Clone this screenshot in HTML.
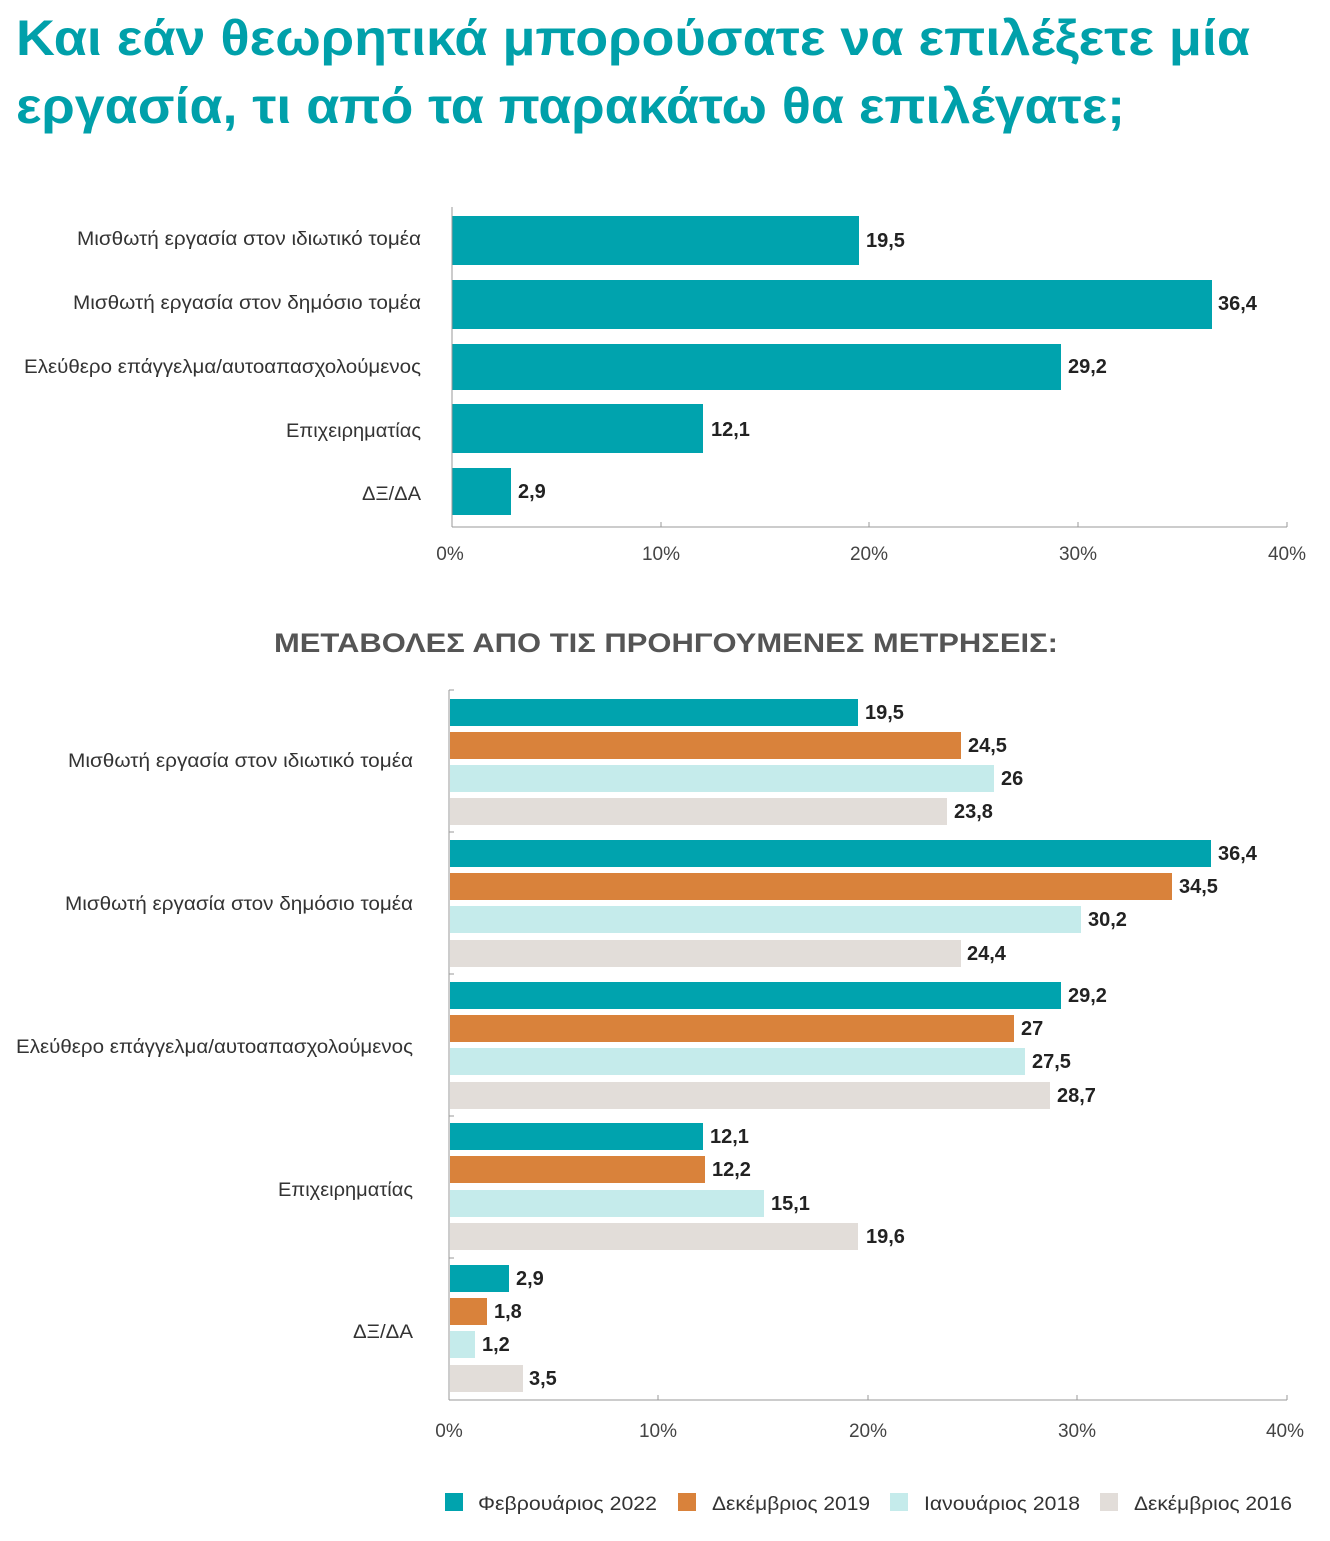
<!DOCTYPE html>
<html><head><meta charset="utf-8"><style>
body{margin:0;background:#fff;width:1330px;height:1536px;overflow:hidden;font-family:"Liberation Sans","DejaVu Sans",sans-serif}
svg text{font-family:"Liberation Sans","DejaVu Sans",sans-serif}
</style></head><body>
<svg width="1330" height="1536" xmlns="http://www.w3.org/2000/svg">
<text x="16" y="55" font-size="50" font-weight="bold" fill="#00A0AA" textLength="1234" lengthAdjust="spacingAndGlyphs">Και εάν θεωρητικά μπορούσατε να επιλέξετε μία</text>
<text x="16" y="123" font-size="50" font-weight="bold" fill="#00A0AA" textLength="1109" lengthAdjust="spacingAndGlyphs">εργασία, τι από τα παρακάτω θα επιλέγατε;</text>

<g fill="#00A3AE">
<rect x="452" y="216" width="407" height="49"/>
<rect x="452" y="280" width="760" height="49"/>
<rect x="452" y="344" width="609" height="46"/>
<rect x="452" y="404" width="251" height="49"/>
<rect x="452" y="468" width="59" height="47"/>
</g>
<g font-size="20" font-weight="bold" fill="#222">
<text x="866" y="247">19,5</text><text x="1218" y="310">36,4</text><text x="1068" y="373">29,2</text><text x="711" y="436">12,1</text><text x="518" y="498">2,9</text>
</g>
<g font-size="19" fill="#333" text-anchor="end" lengthAdjust="spacingAndGlyphs">
<text x="421" y="245" textLength="344" lengthAdjust="spacingAndGlyphs">Μισθωτή εργασία στον ιδιωτικό τομέα</text>
<text x="421" y="309" textLength="348" lengthAdjust="spacingAndGlyphs">Μισθωτή εργασία στον δημόσιο τομέα</text>
<text x="421" y="373" textLength="397" lengthAdjust="spacingAndGlyphs">Ελεύθερο επάγγελμα/αυτοαπασχολούμενος</text>
<text x="421" y="437" textLength="135" lengthAdjust="spacingAndGlyphs">Επιχειρηματίας</text>
<text x="421" y="500" textLength="59" lengthAdjust="spacingAndGlyphs">ΔΞ/ΔΑ</text>
</g>
<g stroke="#999" stroke-width="1">
<line x1="452" y1="207" x2="452" y2="527"/><line x1="452" y1="527" x2="1287" y2="527"/>
<line x1="661" y1="522" x2="661" y2="527"/><line x1="869" y1="522" x2="869" y2="527"/><line x1="1078" y1="522" x2="1078" y2="527"/><line x1="1287" y1="522" x2="1287" y2="527"/>
</g>
<g font-size="19" fill="#444" text-anchor="middle">
<text x="450" y="560">0%</text><text x="661" y="560">10%</text><text x="869" y="560">20%</text><text x="1078" y="560">30%</text><text x="1287" y="560">40%</text>
</g>

<text x="274" y="652" font-size="27" font-weight="bold" fill="#555" textLength="784" lengthAdjust="spacingAndGlyphs">ΜΕΤΑΒΟΛΕΣ ΑΠΟ ΤΙΣ ΠΡΟΗΓΟΥΜΕΝΕΣ ΜΕΤΡΗΣΕΙΣ:</text>

<g font-size="20" font-weight="bold" fill="#222">
<rect x="450" y="699" width="408" height="27" fill="#00A3AE"/><text x="865" y="719">19,5</text>
<rect x="450" y="732" width="511" height="27" fill="#D9823B"/><text x="968" y="752">24,5</text>
<rect x="450" y="765" width="544" height="27" fill="#C5EBEB"/><text x="1001" y="785">26</text>
<rect x="450" y="798" width="497" height="27" fill="#E2DDD9"/><text x="954" y="818">23,8</text>

<rect x="450" y="840" width="761" height="27" fill="#00A3AE"/><text x="1218" y="860">36,4</text>
<rect x="450" y="873" width="722" height="27" fill="#D9823B"/><text x="1179" y="893">34,5</text>
<rect x="450" y="906" width="631" height="27" fill="#C5EBEB"/><text x="1088" y="926">30,2</text>
<rect x="450" y="940" width="511" height="27" fill="#E2DDD9"/><text x="967" y="960">24,4</text>

<rect x="450" y="982" width="611" height="27" fill="#00A3AE"/><text x="1068" y="1002">29,2</text>
<rect x="450" y="1015" width="564" height="27" fill="#D9823B"/><text x="1021" y="1035">27</text>
<rect x="450" y="1048" width="575" height="27" fill="#C5EBEB"/><text x="1032" y="1068">27,5</text>
<rect x="450" y="1082" width="600" height="27" fill="#E2DDD9"/><text x="1057" y="1102">28,7</text>

<rect x="450" y="1123" width="253" height="27" fill="#00A3AE"/><text x="710" y="1143">12,1</text>
<rect x="450" y="1156" width="255" height="27" fill="#D9823B"/><text x="712" y="1176">12,2</text>
<rect x="450" y="1190" width="314" height="27" fill="#C5EBEB"/><text x="771" y="1210">15,1</text>
<rect x="450" y="1223" width="408" height="27" fill="#E2DDD9"/><text x="866" y="1243">19,6</text>

<rect x="450" y="1265" width="59" height="27" fill="#00A3AE"/><text x="516" y="1285">2,9</text>
<rect x="450" y="1298" width="37" height="27" fill="#D9823B"/><text x="494" y="1318">1,8</text>
<rect x="450" y="1331" width="25" height="27" fill="#C5EBEB"/><text x="482" y="1351">1,2</text>
<rect x="450" y="1365" width="73" height="27" fill="#E2DDD9"/><text x="529" y="1385">3,5</text>
</g>
<g font-size="19" fill="#333" text-anchor="end">
<text x="413" y="767" textLength="345" lengthAdjust="spacingAndGlyphs">Μισθωτή εργασία στον ιδιωτικό τομέα</text>
<text x="413" y="910" textLength="348" lengthAdjust="spacingAndGlyphs">Μισθωτή εργασία στον δημόσιο τομέα</text>
<text x="413" y="1053" textLength="397" lengthAdjust="spacingAndGlyphs">Ελεύθερο επάγγελμα/αυτοαπασχολούμενος</text>
<text x="413" y="1196" textLength="135" lengthAdjust="spacingAndGlyphs">Επιχειρηματίας</text>
<text x="413" y="1338" textLength="60" lengthAdjust="spacingAndGlyphs">ΔΞ/ΔΑ</text>
</g>
<g stroke="#999" stroke-width="1">
<line x1="449" y1="690" x2="449" y2="1400"/><line x1="449" y1="1400" x2="1287" y2="1400"/>
<line x1="449" y1="690" x2="454" y2="690"/><line x1="449" y1="832" x2="454" y2="832"/><line x1="449" y1="974" x2="454" y2="974"/><line x1="449" y1="1116" x2="454" y2="1116"/><line x1="449" y1="1258" x2="454" y2="1258"/>
<line x1="658" y1="1395" x2="658" y2="1400"/><line x1="868" y1="1395" x2="868" y2="1400"/><line x1="1077" y1="1395" x2="1077" y2="1400"/><line x1="1287" y1="1395" x2="1287" y2="1400"/>
</g>
<g font-size="19" fill="#444" text-anchor="middle">
<text x="449" y="1437">0%</text><text x="658" y="1437">10%</text><text x="868" y="1437">20%</text><text x="1077" y="1437">30%</text><text x="1285" y="1437">40%</text>
</g>

<g font-size="19" fill="#333">
<rect x="445" y="1493" width="18" height="18" fill="#00A3AE"/><text x="478" y="1510" textLength="179" lengthAdjust="spacingAndGlyphs">Φεβρουάριος 2022</text>
<rect x="678" y="1493" width="18" height="18" fill="#D9823B"/><text x="712" y="1510" textLength="158" lengthAdjust="spacingAndGlyphs">Δεκέμβριος 2019</text>
<rect x="890" y="1493" width="18" height="18" fill="#C5EBEB"/><text x="924" y="1510" textLength="156" lengthAdjust="spacingAndGlyphs">Ιανουάριος 2018</text>
<rect x="1100" y="1493" width="18" height="18" fill="#E2DDD9"/><text x="1134" y="1510" textLength="158" lengthAdjust="spacingAndGlyphs">Δεκέμβριος 2016</text>
</g>
</svg>
</body></html>
